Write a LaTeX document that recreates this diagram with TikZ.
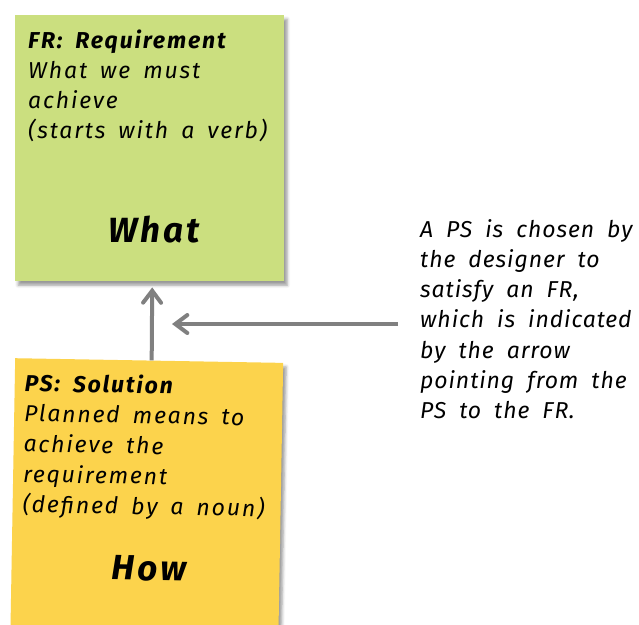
\documentclass[tikz,border=0pt]{standalone}
\usepackage{fontspec}
\setmainfont{Fira Sans}
\newfontfamily\hand{Fira Sans}[LetterSpace=8]
\newfontfamily\handtight{Fira Sans}[LetterSpace=4]
\usetikzlibrary{arrows.meta,shadows.blur}

\definecolor{frgreen}{RGB}{203,223,127}
\definecolor{psyellow}{RGB}{252,211,76}
\definecolor{arrowgray}{RGB}{128,128,128}

% handwritten-looking body text with wide word gaps
\newcommand\handbody{\hand\itshape\fontsize{23}{30.3}\selectfont}
\newcommand\handside{\handtight\itshape\fontsize{23}{30.3}\selectfont}
\newcommand\widegaps{\setlength{\spaceskip}{13pt plus 1pt}}

\tikzset{
  note/.style={draw=none, inner sep=0pt, anchor=north west,
    blur shadow={shadow xshift=3pt, shadow yshift=-4pt,
                 shadow blur radius=3pt, shadow opacity=40}},
  body/.style={inner sep=0pt, anchor=base west, text width=300pt, align=left,
    font=\handbody},
  big/.style={inner sep=0pt, anchor=base,
    font=\hand\bfseries\itshape\fontsize{35}{40}\selectfont},
  link/.style={draw=arrowgray, line width=4pt,
    -{Straight Barb[length=12pt,width=18pt,line cap=round]}}
}

\begin{document}
\begin{tikzpicture}[x=1pt, y=-1pt]
  \useasboundingbox (0,0) rectangle (639,624);

  % functional requirement note
  \node[note, fill=frgreen, minimum width=269pt, minimum height=266pt] (fr) at (15,15) {};
  \node[body] (frtext) at (28,48)
    {\widegaps\textbf{FR: Requirement}\\What we must\\achieve\\(starts with a verb)};
  \node[big] (what) at (154,242) {What};

  % physical solution note, slightly tilted
  \begin{scope}[rotate around={-1:(15,358)}, transform shape]
    \node[note, fill=psyellow, minimum width=268pt, minimum height=290pt] (ps) at (15,358) {};
    \node[body] (pstext) at (25,391)
      {\widegaps\textbf{PS: Solution}\\Planned means to\\achieve the\\requirement\\(defined by a noun)};
    \node[big] (how) at (153,578) {How};
  \end{scope}

  % explanation
  \node[body, text width=215pt, font=\handside] (note) at (420,237)
    {\widegaps A PS is chosen by\\the designer to\\satisfy an FR,\\which is indicated\\by the arrow\\pointing from the\\PS to the FR.};

  % arrows
  \draw[link] ([xshift=2.5pt]ps.north) -- ([xshift=2.5pt, yshift=-6pt]fr.south);
  \coordinate (tail) at (398,324);
  \coordinate (head) at (172,324);
  \draw[link] (tail) -- (head);
\end{tikzpicture}
\end{document}
